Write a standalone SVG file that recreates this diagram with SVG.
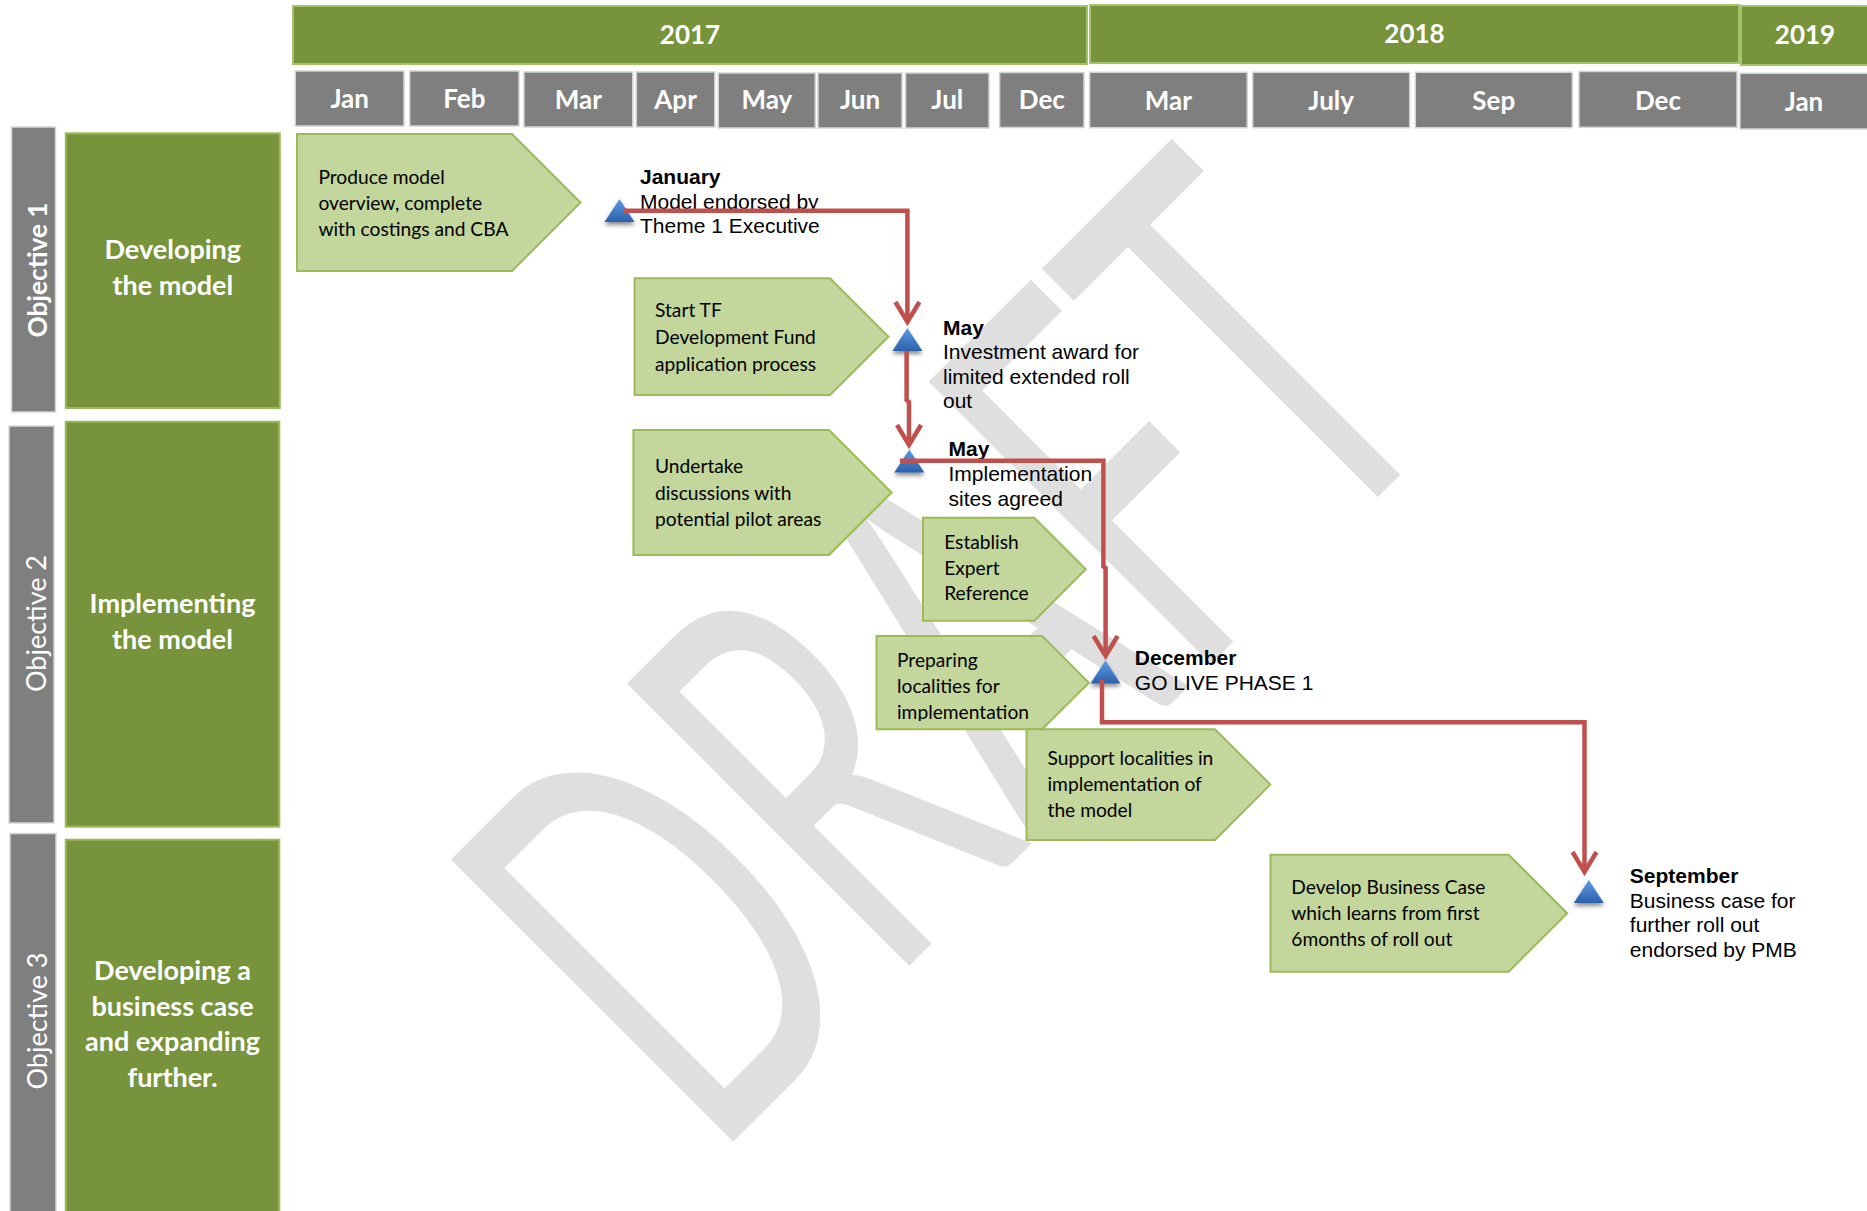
<svg xmlns="http://www.w3.org/2000/svg" width="1867" height="1211" viewBox="0 0 1867 1211">
<style>
.wm{font-family:Lato,"Liberation Sans",sans-serif;font-size:557px;fill:#dfdfdf}
.yr rect{fill:#77933c;stroke:#a6c36a;stroke-width:2}
.yr text,.mo text{font-family:Lato,"Liberation Sans",sans-serif;font-weight:bold;font-size:26px;fill:#fff;text-anchor:middle}
.mo rect{fill:#7f7f7f;stroke:#d4d4d4;stroke-width:1.5}
.bar{fill:#7f7f7f;stroke:#d6d6d6;stroke-width:1.5}
.box{fill:#77933c;stroke:#9bbb59;stroke-width:2}
.objt{font-family:Lato,"Liberation Sans",sans-serif;font-size:27px;fill:#fff;text-anchor:middle}
.boxt{font-family:Lato,"Liberation Sans",sans-serif;font-weight:bold;font-size:27px;fill:#fff;text-anchor:middle}
.chev polygon{fill:#c3d69b;stroke:#9bbb59;stroke-width:2}
.chev text{font-family:Lato,"Liberation Sans",sans-serif;font-size:19.2px;fill:#000}
.ms text{font-family:"Liberation Sans",Arial,sans-serif;font-size:21px;fill:#000}
.ms .b{font-weight:bold}
.conn path{fill:none;stroke:#c0504d;stroke-width:4.5;stroke-linejoin:miter}
</style>
<defs>
<linearGradient id="tg" x1="0" y1="0" x2="0" y2="1">
<stop offset="0" stop-color="#5d9be3"/>
<stop offset="1" stop-color="#2c60ab"/>
</linearGradient>
<filter id="sh" x="-50%" y="-50%" width="200%" height="200%">
<feDropShadow dx="0" dy="3" stdDeviation="2" flood-color="#000" flood-opacity="0.45"/>
</filter>
<path id="tri" d="M0,0 L15,23 L-15,23 Z" fill="url(#tg)" filter="url(#sh)"/>
<marker id="arr" markerUnits="userSpaceOnUse" markerWidth="32" markerHeight="32" viewBox="-26 -16 32 32" refX="0" refY="0" orient="auto">
<path d="M-20,-12 L0,0 L-20,12" fill="none" stroke="#c0504d" stroke-width="4.5"/>
</marker>
<clipPath id="clipE"><rect x="870" y="630" width="230" height="91"/></clipPath>
</defs>

<g id="watermark">
<text class="wm" x="712" y="1163" transform="rotate(-45 712 1163)" textLength="1054" lengthAdjust="spacingAndGlyphs">DRAFT</text>
</g>

<g id="header">
<g class="yr" id="y2017"><rect x="293" y="6" width="794" height="58"/><text x="690" y="44">2017</text></g>
<g class="yr" id="y2018"><rect x="1090" y="5" width="649" height="58"/><text x="1414.5" y="43">2018</text></g>
<g class="yr" id="y2019"><rect x="1741" y="6" width="130" height="59"/><text x="1805" y="44">2019</text></g>
<g class="mo">
<g id="m-jan17"><rect x="295.3" y="71" width="108.7" height="55"/><text x="349.7" y="107.5">Jan</text></g>
<g id="m-feb17"><rect x="409.7" y="71" width="109.3" height="55"/><text x="464.4" y="107.5">Feb</text></g>
<g id="m-mar17"><rect x="524" y="72" width="108.8" height="55"/><text x="578.4" y="108.5">Mar</text></g>
<g id="m-apr17"><rect x="636.3" y="72" width="78.5" height="55"/><text x="675.6" y="108.5">Apr</text></g>
<g id="m-may17"><rect x="718.3" y="73" width="96.9" height="55"/><text x="766.8" y="109">May</text></g>
<g id="m-jun17"><rect x="818" y="73" width="84" height="55"/><text x="860" y="109">Jun</text></g>
<g id="m-jul17"><rect x="905.6" y="73" width="83.4" height="55"/><text x="947.3" y="109">Jul</text></g>
<g id="m-dec17"><rect x="999.6" y="72.5" width="84.4" height="55"/><text x="1041.8" y="109">Dec</text></g>
<g id="m-mar18"><rect x="1089.6" y="72.3" width="157.6" height="55.4"/><text x="1168.4" y="110">Mar</text></g>
<g id="m-jul18"><rect x="1252.7" y="72.3" width="157" height="55.4"/><text x="1331.2" y="110">July</text></g>
<g id="m-sep18"><rect x="1415.3" y="72.3" width="157" height="55.4"/><text x="1493.8" y="110">Sep</text></g>
<g id="m-dec18"><rect x="1579" y="71.5" width="158" height="55.8"/><text x="1658" y="110">Dec</text></g>
<g id="m-jan19"><rect x="1740" y="73.3" width="130" height="55.7"/><text x="1804" y="111">Jan</text></g>
</g>
</g>

<g id="objective1">
<rect class="bar" x="11.5" y="127" width="44" height="285"/>
<text class="objt" font-weight="bold" x="47" y="270" transform="rotate(-90 47 270)" textLength="135" lengthAdjust="spacingAndGlyphs">Objective 1</text>
<rect class="box" x="65.8" y="133.3" width="214" height="274.7"/>
<text class="boxt" x="172.8" y="259"><tspan x="172.8">Developing</tspan><tspan x="172.8" dy="36">the model</tspan></text>
</g>
<g id="objective2">
<rect class="bar" x="9" y="426" width="45" height="397"/>
<text class="objt" x="45.5" y="623.5" transform="rotate(-90 45.5 623.5)" textLength="137" lengthAdjust="spacingAndGlyphs">Objective 2</text>
<rect class="box" x="65.7" y="421.7" width="213.6" height="405"/>
<text class="boxt" x="172.5" y="613"><tspan x="172.5">Implementing</tspan><tspan x="172.5" dy="36">the model</tspan></text>
</g>
<g id="objective3">
<rect class="bar" x="10" y="833.5" width="46" height="390"/>
<text class="objt" x="46.5" y="1021" transform="rotate(-90 46.5 1021)" textLength="137" lengthAdjust="spacingAndGlyphs">Objective 3</text>
<rect class="box" x="65.7" y="839.7" width="213.6" height="390"/>
<text class="boxt" x="172.5" y="980"><tspan x="172.5">Developing a</tspan><tspan x="172.5" dy="35.7">business case</tspan><tspan x="172.5" dy="35.7">and expanding</tspan><tspan x="172.5" dy="35.7">further.</tspan></text>
</g>

<g id="task-produce-model" class="chev">
<polygon points="297,134 512,134 580.5,202.5 512,271 297,271"/>
<text x="318.4" y="183.5"><tspan x="318.4">Produce model</tspan><tspan x="318.4" dy="26">overview, complete</tspan><tspan x="318.4" dy="26">with costings and CBA</tspan></text>
</g>
<g id="task-start-tf" class="chev">
<polygon points="634.6,278.3 830,278.3 888.5,336.7 830,395 634.6,395"/>
<text x="655" y="317.3"><tspan x="655">Start TF</tspan><tspan x="655" dy="26.7">Development Fund</tspan><tspan x="655" dy="26.7">application process</tspan></text>
</g>
<g id="task-undertake" class="chev">
<polygon points="633.4,430 829,430 891.6,492.5 829,555 633.4,555"/>
<text x="655" y="473.3"><tspan x="655">Undertake</tspan><tspan x="655" dy="26.3">discussions with</tspan><tspan x="655" dy="26.3">potential pilot areas</tspan></text>
</g>
<g id="task-establish" class="chev">
<polygon points="923,517.7 1034.3,517.7 1085.8,569.2 1034.3,620.7 923,620.7"/>
<text x="944.2" y="549.3"><tspan x="944.2">Establish</tspan><tspan x="944.2" dy="25.5">Expert</tspan><tspan x="944.2" dy="25.5">Reference</tspan></text>
</g>
<g id="task-preparing" class="chev">
<polygon points="876.5,636 1042.2,636 1088.9,682.7 1042.2,729.3 876.5,729.3"/>
<text x="897" y="666.7" clip-path="url(#clipE)"><tspan x="897">Preparing</tspan><tspan x="897" dy="26">localities for</tspan><tspan x="897" dy="26">implementation</tspan></text>
</g>
<g id="task-support" class="chev">
<polygon points="1026.5,729.3 1215,729.3 1270.3,784.6 1215,840 1026.5,840"/>
<text x="1047.5" y="765"><tspan x="1047.5">Support localities in</tspan><tspan x="1047.5" dy="25.9">implementation of</tspan><tspan x="1047.5" dy="25.9">the model</tspan></text>
</g>
<g id="task-business-case" class="chev">
<polygon points="1270.5,854.7 1508.7,854.7 1567.2,913.2 1508.7,971.7 1270.5,971.7"/>
<text x="1291.3" y="894"><tspan x="1291.3">Develop Business Case</tspan><tspan x="1291.3" dy="25.8">which learns from first</tspan><tspan x="1291.3" dy="25.8">6months of roll out</tspan></text>
</g>

<g id="ms-january" class="ms">
<use href="#tri" x="619.5" y="199"/>
<text x="640" y="184"><tspan class="b" x="640">January</tspan><tspan x="640" dy="24.5">Model endorsed by</tspan><tspan x="640" dy="24.5">Theme 1 Executive</tspan></text>
</g>
<g id="ms-may-investment" class="ms">
<use href="#tri" x="907.4" y="328"/>
<text x="943" y="335"><tspan class="b" x="943">May</tspan><tspan x="943" dy="24.4">Investment award for</tspan><tspan x="943" dy="24.4">limited extended roll</tspan><tspan x="943" dy="24.4">out</tspan></text>
</g>
<g id="ms-may-sites" class="ms">
<use href="#tri" x="909.3" y="449.5"/>
<text x="948.5" y="455.5"><tspan class="b" x="948.5">May</tspan><tspan x="948.5" dy="25">Implementation</tspan><tspan x="948.5" dy="25">sites agreed</tspan></text>
</g>
<g id="ms-december" class="ms">
<use href="#tri" x="1105.5" y="660.5"/>
<text x="1134.8" y="665"><tspan class="b" x="1134.8">December</tspan><tspan x="1134.8" dy="24.5">GO LIVE PHASE 1</tspan></text>
</g>
<g id="ms-september" class="ms">
<use href="#tri" x="1588.8" y="880"/>
<text x="1629.8" y="883.3"><tspan class="b" x="1629.8">September</tspan><tspan x="1629.8" dy="24.5">Business case for</tspan><tspan x="1629.8" dy="24.5">further roll out</tspan><tspan x="1629.8" dy="24.5">endorsed by PMB</tspan></text>
</g>

<g id="connectors" class="conn">
<path d="M624,210.7 H907.4 V322" marker-end="url(#arr)"/>
<path d="M906.6,351 V400 L909,402 V445" marker-end="url(#arr)"/>
<path d="M900,460.7 H1103.4 V566.5 L1105.6,568 V656" marker-end="url(#arr)"/>
<path d="M1102,680 V722.3 H1584.5 V872" marker-end="url(#arr)"/>
</g>
</svg>
